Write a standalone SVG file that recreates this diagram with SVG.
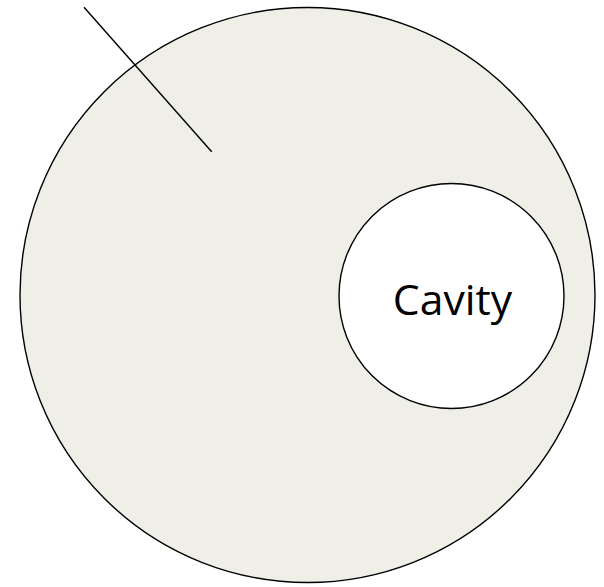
<svg xmlns="http://www.w3.org/2000/svg" width="604" height="587" viewBox="0 0 604 587">
<style>
.outline{stroke:#000;stroke-width:1.4}
.label{font-family:"Open Sans",sans-serif;font-size:42.7px;fill:#000}
</style>
<rect width="604" height="587" fill="#fff"/>
<g id="body">
<circle cx="307.5" cy="295" r="287.5" fill="#EFEFE7" class="outline"/>
</g>
<g id="cavity">
<circle cx="451.5" cy="296" r="112.5" fill="#fff" class="outline"/>
<text x="452.5" y="315" text-anchor="middle" class="label">Cavity</text>
</g>
<g id="connectors">
<line x1="84" y1="7.3" x2="211.7" y2="151.7" class="outline" fill="none"/>
</g>
</svg>
